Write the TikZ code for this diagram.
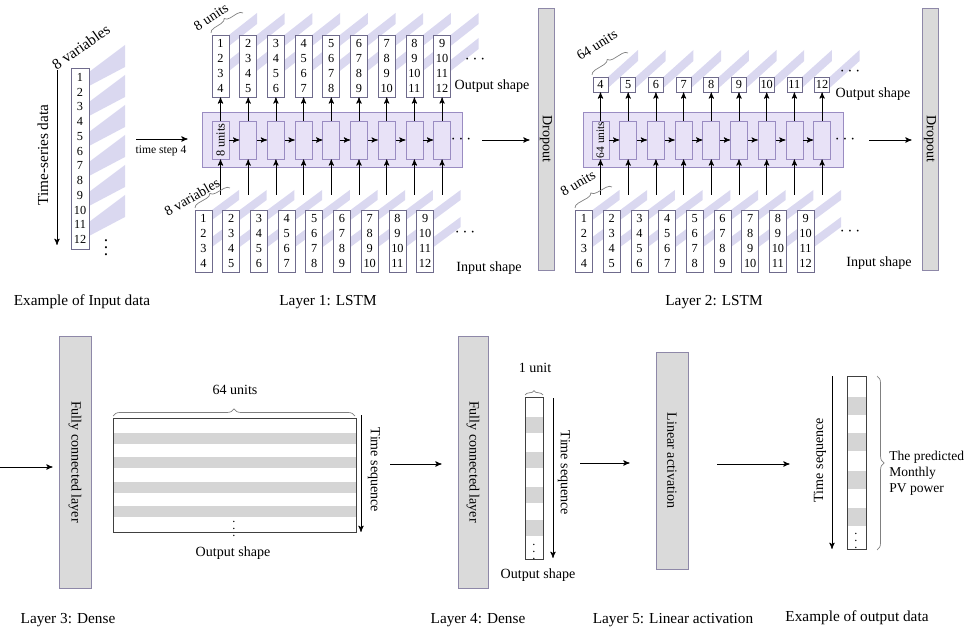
\documentclass[tikz,border=0pt]{standalone}
\usepackage{fontspec}
\setmainfont{Liberation Serif}
\usetikzlibrary{arrows,positioning,decorations.pathreplacing}

\definecolor{lstmfill}{HTML}{E8E2F7}
\definecolor{lstmline}{HTML}{9A8CC2}
\definecolor{boxline}{HTML}{6F6B8C}
\definecolor{bandcol}{HTML}{DAD8F0}
\definecolor{barfill}{HTML}{DADADA}
\definecolor{barline}{HTML}{8E88A8}
\definecolor{rowgray}{HTML}{D5D5D5}

\newcommand{\lblfont}{\fontsize{8.7}{10}\selectfont}
\newcommand{\shpfont}{\fontsize{8}{9}\selectfont}
\newcommand{\numfont}{\fontsize{7}{8.6}\selectfont}

\begin{document}
\begin{tikzpicture}[x=0.02cm,y=-0.02cm,>=stealth',thin,
  lbl/.style={font=\lblfont},
  shp/.style={font=\shpfont},
  lstm/.style={draw=lstmline,fill=lstmfill,inner sep=0pt},
  cell/.style={lstm,minimum width=0.34cm,minimum height=0.76cm},
  numcol/.style={draw=boxline,fill=white,inner sep=0pt,minimum width=0.34cm,align=center,font=\numfont},
  bar/.style={draw=barline,fill=barfill,inner sep=0pt,minimum width=0.32cm},
  bartext/.style={font=\shpfont,rotate=-90,inner sep=0pt},
  seqcol/.style={draw=black!75,inner sep=0pt},
  band/.style={fill=bandcol},
  brc/.style={draw=black!50,decorate,decoration={brace,amplitude=3pt}}]
 \useasboundingbox (0,0) rectangle (967,628);

 % example of input data
 \foreach \a in {72,102,...,222}
   \fill[band] (89,\a) -- (125,\a-27) -- (125,\a-5) -- (89,\a+14) -- cycle;
 \node[numcol,minimum width=0.36cm,minimum height=3.62cm,font=\fontsize{7}{8.4}\selectfont]
   (data) at (80,158.5) {1\\2\\3\\4\\5\\6\\7\\8\\9\\10\\11\\12};
 \node[lbl,rotate=35] at (81,47) {8 variables};
 \node[lbl,rotate=90] at (43,155) {Time-series data};
 \coordinate (tsd1) at (57,70);
 \coordinate (tsd2) at (57,245);
 \draw[->] (tsd1) -- (tsd2);
 \node at (106,242) {$\vdots$};
 \node[lbl] at (82,302) {Example of Input data};

 % layer 1: LSTM
 \node[lstm,minimum width=5.2cm,minimum height=1.1cm] (lstma) at (332,139.5) {};
 \foreach \i in {1,...,9}{
   \pgfmathsetmacro\xo{229+27.7*(\i-1)}
   \pgfmathsetmacro\xn{212+27.7*(\i-1)}
   \fill[band] (\xo,35) -- ++(28,-22) -- ++(0,11) -- (\xo,46) -- cycle;
   \fill[band] (\xo,60) -- ++(28,-22) -- ++(0,11) -- (\xo,71) -- cycle;
   \fill[band] (\xn,210) -- ++(27,-20) -- ++(0,10) -- (\xn,220) -- cycle;
   \fill[band] (\xn,237) -- ++(27,-20) -- ++(0,10) -- (\xn,247) -- cycle;
 }
 \foreach \i in {1,...,9}{
   \pgfmathsetmacro\xc{220.5+27.7*(\i-1)}
   \pgfmathsetmacro\xn{203.5+27.7*(\i-1)}
   \pgfmathtruncatemacro\nb{\i+1}
   \pgfmathtruncatemacro\nc{\i+2}
   \pgfmathtruncatemacro\nd{\i+3}
   \node[cell] (ca\i) at (\xc,140) {};
   \node[numcol,minimum height=1.24cm] (oa\i) at (\xc,66) {\i\\\nb\\\nc\\\nd};
   \node[numcol,minimum height=1.24cm] (ia\i) at (\xn,241) {\i\\\nb\\\nc\\\nd};
   \coordinate (sa\i) at (\xc,195);
   \draw[->] (ca\i) -- (oa\i);
   \draw[->] (sa\i) -- (ca\i);
 }
 \foreach \i [evaluate=\i as \j using int(\i+1)] in {1,...,8}
   \draw[->] (ca\i) -- (ca\j);
 \node[rotate=90,font=\numfont,inner sep=0pt] at (ca1) {8 units};
 \node (dotsa) at (461,140) {$\cdots$};
 \node at (475,60) {$\cdots$};
 \node at (465,233) {$\cdots$};
 \node[shp] at (492,86) {Output shape};
 \node[shp] at (489,268) {Input shape};
 \draw[brc] (211,33) -- (243,13);
 \node[shp,rotate=33] at (211,17) {8 units};
 \draw[brc] (195,208) -- (230,188);
 \node[shp,rotate=30] at (192,197) {8 variables};
 \coordinate (tstep) at (136,139);
 \draw[->,shorten >=0.28cm] (tstep) -- (tstep -| lstma.west);
 \node[font=\fontsize{6.6}{8}\selectfont] at (161,151) {time step 4};
 \node[lbl] at (328,302) {Layer 1: LSTM};

 \node[bar,minimum height=5.24cm] (drop1) at (546,139) {};
 \node[bartext] at (drop1) {Dropout};
 \draw[->,shorten <=0.1cm,shorten >=0.16cm] (dotsa.east) -- (dotsa.east -| drop1.west);

 % layer 2: LSTM
 \node[lstm,minimum width=5.2cm,minimum height=1.1cm] (lstmb) at (713,139.5) {};
 \foreach \i in {1,...,9}{
   \pgfmathsetmacro\xo{608+27.7*(\i-1)}
   \pgfmathsetmacro\xn{592.5+27.7*(\i-1)}
   \fill[band] (\xo,77) -- ++(30,-27) -- ++(0,11) -- (\xo,88) -- cycle;
   \fill[band] (\xn,210) -- ++(27,-20) -- ++(0,10) -- (\xn,220) -- cycle;
   \fill[band] (\xn,237) -- ++(27,-20) -- ++(0,10) -- (\xn,247) -- cycle;
 }
 \foreach \i in {1,...,9}{
   \pgfmathsetmacro\xc{600.5+27.7*(\i-1)}
   \pgfmathsetmacro\xn{584+27.7*(\i-1)}
   \pgfmathtruncatemacro\nb{\i+1}
   \pgfmathtruncatemacro\nc{\i+2}
   \pgfmathtruncatemacro\nd{\i+3}
   \node[cell] (cb\i) at (\xc,140) {};
   \node[numcol,minimum width=0.3cm,minimum height=0.3cm] (ob\i) at (\xc,84.5) {\nd};
   \node[numcol,minimum height=1.24cm] (ib\i) at (\xn,241) {\i\\\nb\\\nc\\\nd};
   \coordinate (sb\i) at (\xc,195);
   \draw[->] (cb\i) -- (ob\i);
   \draw[->] (sb\i) -- (cb\i);
 }
 \foreach \i [evaluate=\i as \j using int(\i+1)] in {1,...,8}
   \draw[->] (cb\i) -- (cb\j);
 \node[rotate=90,font=\fontsize{6.5}{8}\selectfont,inner sep=0pt] at (cb1) {64 units};
 \node (dotsb) at (845,140) {$\cdots$};
 \node at (850,72) {$\cdots$};
 \node at (850,232) {$\cdots$};
 \node[shp] at (873,94) {Output shape};
 \node[shp] at (879,263) {Input shape};
 \draw[brc] (592,75) -- (628,53);
 \node[shp,rotate=32] at (597,45) {64 units};
 \draw[brc] (575,208) -- (612,187);
 \node[shp,rotate=30] at (578,183) {8 units};
 \node[lbl] at (714,302) {Layer 2: LSTM};

 \node[bar,minimum height=5.24cm] (drop2) at (930,139) {};
 \node[bartext] at (drop2) {Dropout};
 \draw[->,shorten <=0.16cm,shorten >=0.2cm] (dotsb.east) -- (dotsb.east -| drop2.west);

 % layer 3: dense
 \node[bar,minimum width=0.64cm,minimum height=5.04cm] (fc1) at (75,462) {};
 \node[bartext] at (fc1) {Fully connected layer};
 \coordinate (inl) at (0,467);
 \draw[->,shorten >=0.12cm] (inl) -- (inl -| fc1.west);
 \foreach \y in {433,457,482,506}
   \fill[rowgray] (113,\y) rectangle (356,\y+11);
 \node[seqcol,minimum width=4.86cm,minimum height=2.28cm] (dense) at (234.5,475) {};
 \node[font=\numfont] at (234,524) {$\vdots$};
 \draw[brc,decoration={amplitude=4pt}] (113,416) -- (355,416);
 \node[shp] at (235,390) {64 units};
 \coordinate (tqa) at (361,415);
 \coordinate (tqb) at (361,532);
 \draw[->] (tqa) -- (tqb);
 \node[shp,rotate=-90] at (374,470) {Time sequence};
 \node[shp] at (233,553) {Output shape};
 \node[lbl] at (68,620) {Layer 3: Dense};

 % layer 4: dense
 \node[bar,minimum width=0.6cm,minimum height=5.04cm] (fc2) at (473,462) {};
 \node[bartext] at (fc2) {Fully connected layer};
 \coordinate (dl) at (390,464);
 \draw[->,shorten >=0.32cm] (dl) -- (dl -| fc2.west);
 \foreach \y in {417,452,487,520}
   \fill[rowgray] (525,\y) rectangle (543,\y+16);
 \node[seqcol,minimum width=0.36cm,minimum height=3.24cm] (unit) at (534,478) {};
 \node[font=\numfont] at (534,547) {$\vdots$};
 \draw[brc,decoration={amplitude=2.5pt}] (525,395) -- (543,395);
 \node[shp] at (535,368) {1 unit};
 \coordinate (tua) at (553,398);
 \coordinate (tub) at (553,558);
 \draw[->] (tua) -- (tub);
 \node[shp,rotate=-90] at (564,473) {Time sequence};
 \node[shp] at (538,575) {Output shape};
 \node[lbl] at (478,620) {Layer 4: Dense};

 % layer 5: linear activation
 \node[bar,minimum width=0.64cm,minimum height=4.34cm] (lin) at (672,460.5) {};
 \node[bartext] at (lin) {Linear activation};
 \coordinate (ul) at (580,463);
 \draw[->,shorten >=0.52cm] (ul) -- (ul -| lin.west);
 \node[lbl] at (673,620) {Layer 5: Linear activation};

 % example of output data
 \foreach \y in {397,433,471,508}
   \fill[rowgray] (847,\y) rectangle (866,\y+18);
 \node[seqcol,minimum width=0.38cm,minimum height=3.46cm] (outcol) at (856.5,462.5) {};
 \node[font=\numfont] at (856,536) {$\vdots$};
 \draw[->,shorten <=0.58cm,shorten >=1.14cm] (lin.east |- 0,464) -- (outcol.west |- 0,464);
 \coordinate (toa) at (832,376);
 \coordinate (tob) at (832,549);
 \draw[->] (toa) -- (tob);
 \node[shp,rotate=90] at (820,460) {Time sequence};
 \draw[brc,decoration={amplitude=4pt}] (877,376) -- (877,550);
 \node[font=\fontsize{7.7}{9}\selectfont,anchor=west,align=left,inner sep=0pt] at (889,473) {The predicted\\Monthly\\PV power};
 \node[lbl] at (857,618) {Example of output data};
\end{tikzpicture}
\end{document}
